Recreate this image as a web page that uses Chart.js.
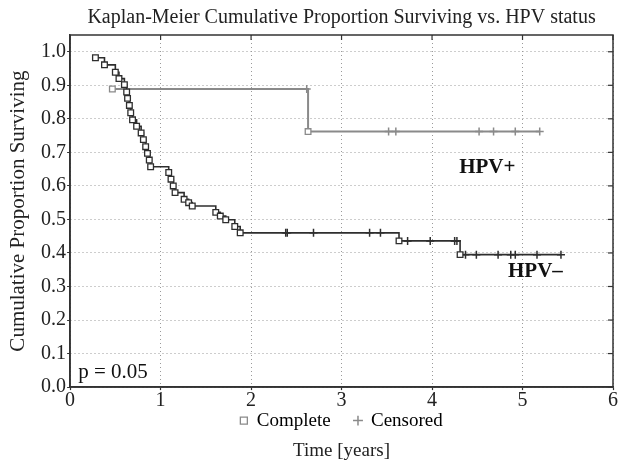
<!DOCTYPE html>
<html>
<head>
<meta charset="utf-8">
<script src="https://cdn.jsdelivr.net/npm/chart.js@4/dist/chart.umd.min.js"></script>
<style>
html, body { margin: 0; padding: 0; background: #fff; }
</style>
</head>
<body>
<canvas id="km" width="629" height="465"></canvas>
<script>
// HPV- : complete (event) times and survival after each event
const negEventT = [0.28, 0.38, 0.50, 0.54, 0.60, 0.625, 0.635, 0.655, 0.67, 0.69, 0.735, 0.785, 0.81, 0.835, 0.855, 0.875, 0.89,
	1.09, 1.115, 1.14, 1.16, 1.26, 1.31, 1.35, 1.61, 1.66, 1.72, 1.82, 1.88, 3.635, 4.31];
const negEventS = [0.982, 0.961, 0.939, 0.920, 0.902, 0.880, 0.861, 0.840, 0.818, 0.797, 0.778, 0.758, 0.738, 0.717, 0.697, 0.677, 0.657,
	0.640, 0.620, 0.600, 0.580, 0.560, 0.550, 0.540, 0.521, 0.510, 0.499, 0.479, 0.460, 0.436, 0.395];
// HPV- : censored
const negCensT = [2.383, 2.40, 2.69, 3.31, 3.43, 3.73, 3.98, 4.25, 4.275, 4.37, 4.49, 4.73, 4.87, 4.92, 5.16, 5.425];
const negCensS = [0.460, 0.460, 0.460, 0.460, 0.460, 0.436, 0.436, 0.436, 0.436, 0.395, 0.395, 0.395, 0.395, 0.395, 0.395, 0.395];

// HPV+
const posEventT = [0.467, 2.63];
const posEventS = [0.889, 0.762];
const posCensT = [2.615, 3.52, 3.60, 4.52, 4.68, 4.92, 5.19];
const posCensS = [0.889, 0.762, 0.762, 0.762, 0.762, 0.762, 0.762];

const xTickVals = [0, 1, 2, 3, 4, 5, 6];
const yTickVals = [0, 0.1, 0.2, 0.3, 0.4, 0.5, 0.6, 0.7, 0.8, 0.9, 1.0];

const negColor = '#2e2e2e';
const posColor = '#8a8a8a';
const serif = '"Liberation Serif", "DejaVu Serif", serif';

Chart.defaults.font.family = serif;
Chart.defaults.color = '#222';

function toPts(t, s) {
	return t.map((v, i) => ({ x: v, y: s[i] }));
}

function stepLine(evT, evS, cT, cS) {
	return toPts(evT, evS).concat(toPts(cT, cS)).sort((a, b) => a.x - b.x);
}

// text labels + top/right frame
const extras = {
	id: 'extras',
	afterDatasetsDraw(chart) {
		const { ctx, chartArea: a, scales: { x, y } } = chart;
		ctx.save();
		ctx.strokeStyle = '#333';
		ctx.lineWidth = 1.5;
		ctx.strokeRect(a.left, a.top, a.right - a.left, a.bottom - a.top);
		// inward ticks on top and right
		ctx.lineWidth = 1.2;
		xTickVals.forEach(v => {
			const px = x.getPixelForValue(v);
			ctx.beginPath(); ctx.moveTo(px, a.top); ctx.lineTo(px, a.top + 5); ctx.stroke();
		});
		yTickVals.forEach(v => {
			const py = y.getPixelForValue(v);
			ctx.beginPath(); ctx.moveTo(a.right, py); ctx.lineTo(a.right - 5, py); ctx.stroke();
		});

		ctx.fillStyle = '#111';
		ctx.textBaseline = 'middle';
		ctx.textAlign = 'left';
		ctx.font = 'bold 21px ' + serif;
		ctx.fillText('HPV+', x.getPixelForValue(4.30), y.getPixelForValue(0.655));
		ctx.fillText('HPV\u2013', x.getPixelForValue(4.84), y.getPixelForValue(0.345));
		ctx.font = '21px ' + serif;
		ctx.fillText('p = 0.05', x.getPixelForValue(0.09), y.getPixelForValue(0.045));
		ctx.restore();
	}
};

new Chart(document.getElementById('km'), {
	type: 'scatter',
	data: {
		datasets: [{
			label: 'HPV- complete',
			data: toPts(negEventT, negEventS),
			pointStyle: 'rect',
			pointRadius: 4,
			pointBackgroundColor: '#fff',
			pointBorderColor: negColor,
			pointBorderWidth: 1.3,
			order: 1
		}, {
			label: 'HPV- censored',
			data: toPts(negCensT, negCensS),
			pointStyle: 'cross',
			pointRadius: 4,
			pointBorderColor: negColor,
			pointBorderWidth: 1.5,
			order: 1
		}, {
			label: 'HPV+ complete',
			data: toPts(posEventT, posEventS),
			pointStyle: 'rect',
			pointRadius: 4,
			pointBackgroundColor: '#fff',
			pointBorderColor: posColor,
			pointBorderWidth: 1.3,
			order: 1
		}, {
			label: 'HPV+ censored',
			data: toPts(posCensT, posCensS),
			pointStyle: 'cross',
			pointRadius: 4,
			pointBorderColor: posColor,
			pointBorderWidth: 1.5,
			order: 1
		}, {
			label: 'HPV-',
			type: 'line',
			data: stepLine(negEventT, negEventS, negCensT, negCensS),
			stepped: 'before',
			borderColor: negColor,
			borderWidth: 1.6,
			pointRadius: 0,
			fill: false,
			order: 2
		}, {
			label: 'HPV+',
			type: 'line',
			data: stepLine(posEventT, posEventS, posCensT, posCensS),
			stepped: 'before',
			borderColor: posColor,
			borderWidth: 2,
			pointRadius: 0,
			fill: false,
			order: 2
		}]
	},
	options: {
		responsive: false,
		animation: false,
		layout: { padding: { right: 16, left: 7, bottom: 0 } },
		plugins: {
			tooltip: { enabled: false },
			title: {
				display: true,
				text: 'Kaplan-Meier Cumulative Proportion Surviving vs. HPV status',
				fullSize: false,
				font: { size: 20, weight: 'normal', lineHeight: 1.1 },
				color: '#222',
				padding: { top: 7, bottom: 6 }
			},
			subtitle: {
				display: true,
				text: 'Time [years]',
				position: 'bottom',
				fullSize: false,
				font: { size: 19, lineHeight: 1.1 },
				color: '#222',
				padding: { top: 0, bottom: 4 }
			},
			legend: {
				position: 'bottom',
				fullSize: false,
				onClick: null,
				labels: {
					usePointStyle: true,
					boxWidth: 7,
					boxHeight: 7,
					padding: 0,
					font: { size: 19, lineHeight: 1.1 },
					color: '#222',
					generateLabels: () => [
						{ text: 'Complete     ', pointStyle: 'rect', fillStyle: '#fff', strokeStyle: posColor, lineWidth: 1.3 },
						{ text: 'Censored', pointStyle: 'cross', fillStyle: posColor, strokeStyle: posColor, lineWidth: 1.5 }
					]
				}
			}
		},
		scales: {
			x: {
				type: 'linear',
				min: 0,
				max: 6,
				afterBuildTicks: s => { s.ticks = xTickVals.map(v => ({ value: v })); },
				ticks: { font: { size: 20, lineHeight: 1.05 }, color: '#222', padding: 0, callback: v => String(v) },
				grid: { color: '#9a9a9a', lineWidth: 1, tickColor: '#333', tickLength: 3, tickWidth: 1.2 },
				border: { color: '#333', width: 1.5, dash: [1, 3] }
			},
			y: {
				type: 'linear',
				min: 0,
				max: 1.05,
				afterBuildTicks: s => { s.ticks = yTickVals.map(v => ({ value: v })); },
				ticks: { font: { size: 20 }, color: '#222', padding: 1, callback: v => v.toFixed(1) },
				grid: { color: '#9a9a9a', lineWidth: 1, tickColor: '#333', tickLength: 3, tickWidth: 1.2 },
				border: { color: '#333', width: 1.5, dash: [1, 3] },
				title: {
					display: true,
					text: 'Cumulative Proportion Surviving',
					font: { size: 21, lineHeight: 1.1 },
					color: '#222',
					padding: { top: 0, bottom: 10 }
				}
			}
		}
	},
	plugins: [extras]
});
</script>
</body>
</html>
